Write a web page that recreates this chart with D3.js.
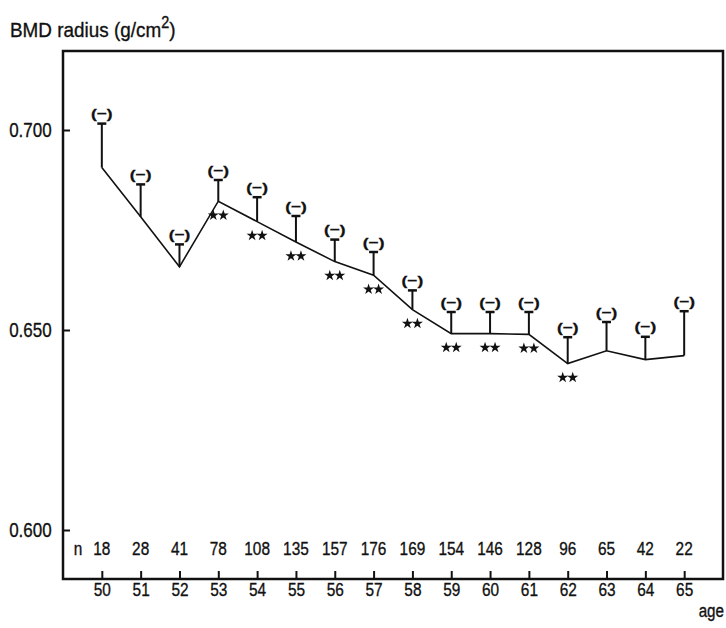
<!DOCTYPE html>
<html>
<head>
<meta charset="utf-8">
<script src="https://cdn.jsdelivr.net/npm/d3@7"></script>
<style>
  html, body { margin: 0; padding: 0; background: #fff; }
  svg { display: block; }
  svg text { font-family: "Liberation Sans", Arial, sans-serif; fill: #111; stroke: #111; stroke-width: 0.35px; }
</style>
</head>
<body>
<div id="chart"></div>
<script>
// Radius bone mineral density by age (mean with upper SE bar)
const ages = [50, 51, 52, 53, 54, 55, 56, 57, 58, 59, 60, 61, 62, 63, 64, 65];
const sampleSizes = [18, 28, 41, 78, 108, 135, 157, 176, 169, 154, 146, 128, 96, 65, 42, 22];
const meanBmd = [0.6906, 0.6783, 0.6658, 0.6822, 0.6771, 0.6720, 0.6671, 0.6637,
                 0.6551, 0.6491, 0.6491, 0.6489, 0.6416, 0.6448, 0.6426, 0.6436];
const upperBmd = [0.7016, 0.6864, 0.6714, 0.6875, 0.6832, 0.6785, 0.6726, 0.6695,
                  0.6599, 0.6545, 0.6545, 0.6545, 0.6482, 0.6520, 0.6483, 0.6547];
const significant = [false, false, false, true, true, true, true, true,
                     true, true, true, true, true, false, false, false];
const yTickValues = [0.600, 0.650, 0.700];

const width = 726, height = 628;
const frame = { left: 63, right: 723, top: 51, bottom: 579 };
const narrow = 0.81; // horizontal squeeze giving a condensed typeface look

const svg = d3.select("#chart").append("svg")
  .attr("width", width).attr("height", height);

const x = d3.scaleLinear().domain([49, 66]).range([frame.left, frame.right]);
const y = d3.scaleLinear().domain([0.5875, 0.72]).range([580, 50]);

// Title
const title = svg.append("text")
  .attr("transform", `translate(10,37) scale(0.9,1)`)
  .style("font-size", "21px");
title.append("tspan").text("BMD radius (g/cm");
title.append("tspan").attr("dy", -9).style("font-size", "16px").text("2");
title.append("tspan").attr("dy", 9).text(")");

// Frame
svg.append("rect")
  .attr("x", frame.left).attr("y", frame.top)
  .attr("width", frame.right - frame.left).attr("height", frame.bottom - frame.top)
  .attr("fill", "none").attr("stroke", "#111").attr("stroke-width", 2.5);

// Y axis
const yAxis = svg.append("g")
  .attr("transform", `translate(${frame.left},0)`)
  .call(d3.axisLeft(y).tickValues(yTickValues).tickSize(-7).tickPadding(14)
    .tickFormat(d3.format(".3f")));
yAxis.select(".domain").remove();
yAxis.selectAll(".tick line").attr("stroke", "#111").attr("stroke-width", 2);
yAxis.selectAll(".tick text")
  .attr("fill", "#111")
  .style("font-size", "21px")
  .attr("transform", `scale(${narrow},1)`);

// X axis
const xAxis = svg.append("g")
  .attr("transform", `translate(0,${frame.bottom})`)
  .call(d3.axisBottom(x).tickValues(ages).tickSize(-8).tickPadding(3)
    .tickFormat(d3.format("d")));
xAxis.select(".domain").remove();
xAxis.selectAll(".tick line").attr("stroke", "#111").attr("stroke-width", 2);
xAxis.selectAll(".tick text")
  .attr("fill", "#111")
  .style("font-size", "19px")
  .attr("transform", `scale(${narrow},1)`);
svg.selectAll("g").attr("font-family", null);

svg.append("text").attr("text-anchor", "end")
  .attr("transform", `translate(724,617) scale(0.8,1)`)
  .style("font-size", "19px").text("age");

// Sample sizes row
svg.append("text").attr("text-anchor", "middle")
  .attr("transform", `translate(78,555) scale(${narrow},1)`)
  .style("font-size", "19px").text("n");
svg.append("g").selectAll("text").data(ages).join("text")
  .attr("text-anchor", "middle")
  .attr("transform", d => `translate(${x(d)},555) scale(${narrow},1)`)
  .style("font-size", "19px").text((d, i) => sampleSizes[i]);

const rows = ages.map((a, i) => ({ age: a, mean: meanBmd[i], upper: upperBmd[i], sig: significant[i] }));

// Error bars (upper SE)
const bars = svg.append("g");
bars.selectAll("line.bar").data(rows).join("line").attr("class", "bar")
  .attr("x1", d => x(d.age)).attr("x2", d => x(d.age))
  .attr("y1", d => y(d.mean)).attr("y2", d => y(d.upper))
  .attr("stroke", "#111").attr("stroke-width", 2);
bars.selectAll("line.cap").data(rows).join("line").attr("class", "cap")
  .attr("x1", d => x(d.age) - 4.5).attr("x2", d => x(d.age) + 4.5)
  .attr("y1", d => y(d.upper)).attr("y2", d => y(d.upper))
  .attr("stroke", "#111").attr("stroke-width", 2.5);

// "(−)" markers above each bar
svg.append("g").selectAll("text").data(rows).join("text")
  .attr("text-anchor", "middle").attr("dy", "0.35em")
  .attr("transform", d => `translate(${x(d.age)},${y(d.upper) - 10}) scale(1.08,0.82)`)
  .style("font-size", "16px").style("font-weight", "bold")
  .text("(\u2212)");

// Mean line
svg.append("path").datum(rows)
  .attr("fill", "none").attr("stroke", "#111").attr("stroke-width", 1.6)
  .attr("d", d3.line().x(d => x(d.age)).y(d => y(d.mean)));

// Significance stars
const star = d3.symbol().type(d3.symbolStar).size(38);
const starRows = rows.filter(d => d.sig).flatMap(d => [
  { cx: x(d.age) - 5, cy: y(d.mean) + 14 },
  { cx: x(d.age) + 5, cy: y(d.mean) + 14 }
]);
svg.append("g").selectAll("path").data(starRows).join("path")
  .attr("transform", d => `translate(${d.cx},${d.cy})`)
  .attr("d", star).attr("fill", "#111");
</script>
</body>
</html>
